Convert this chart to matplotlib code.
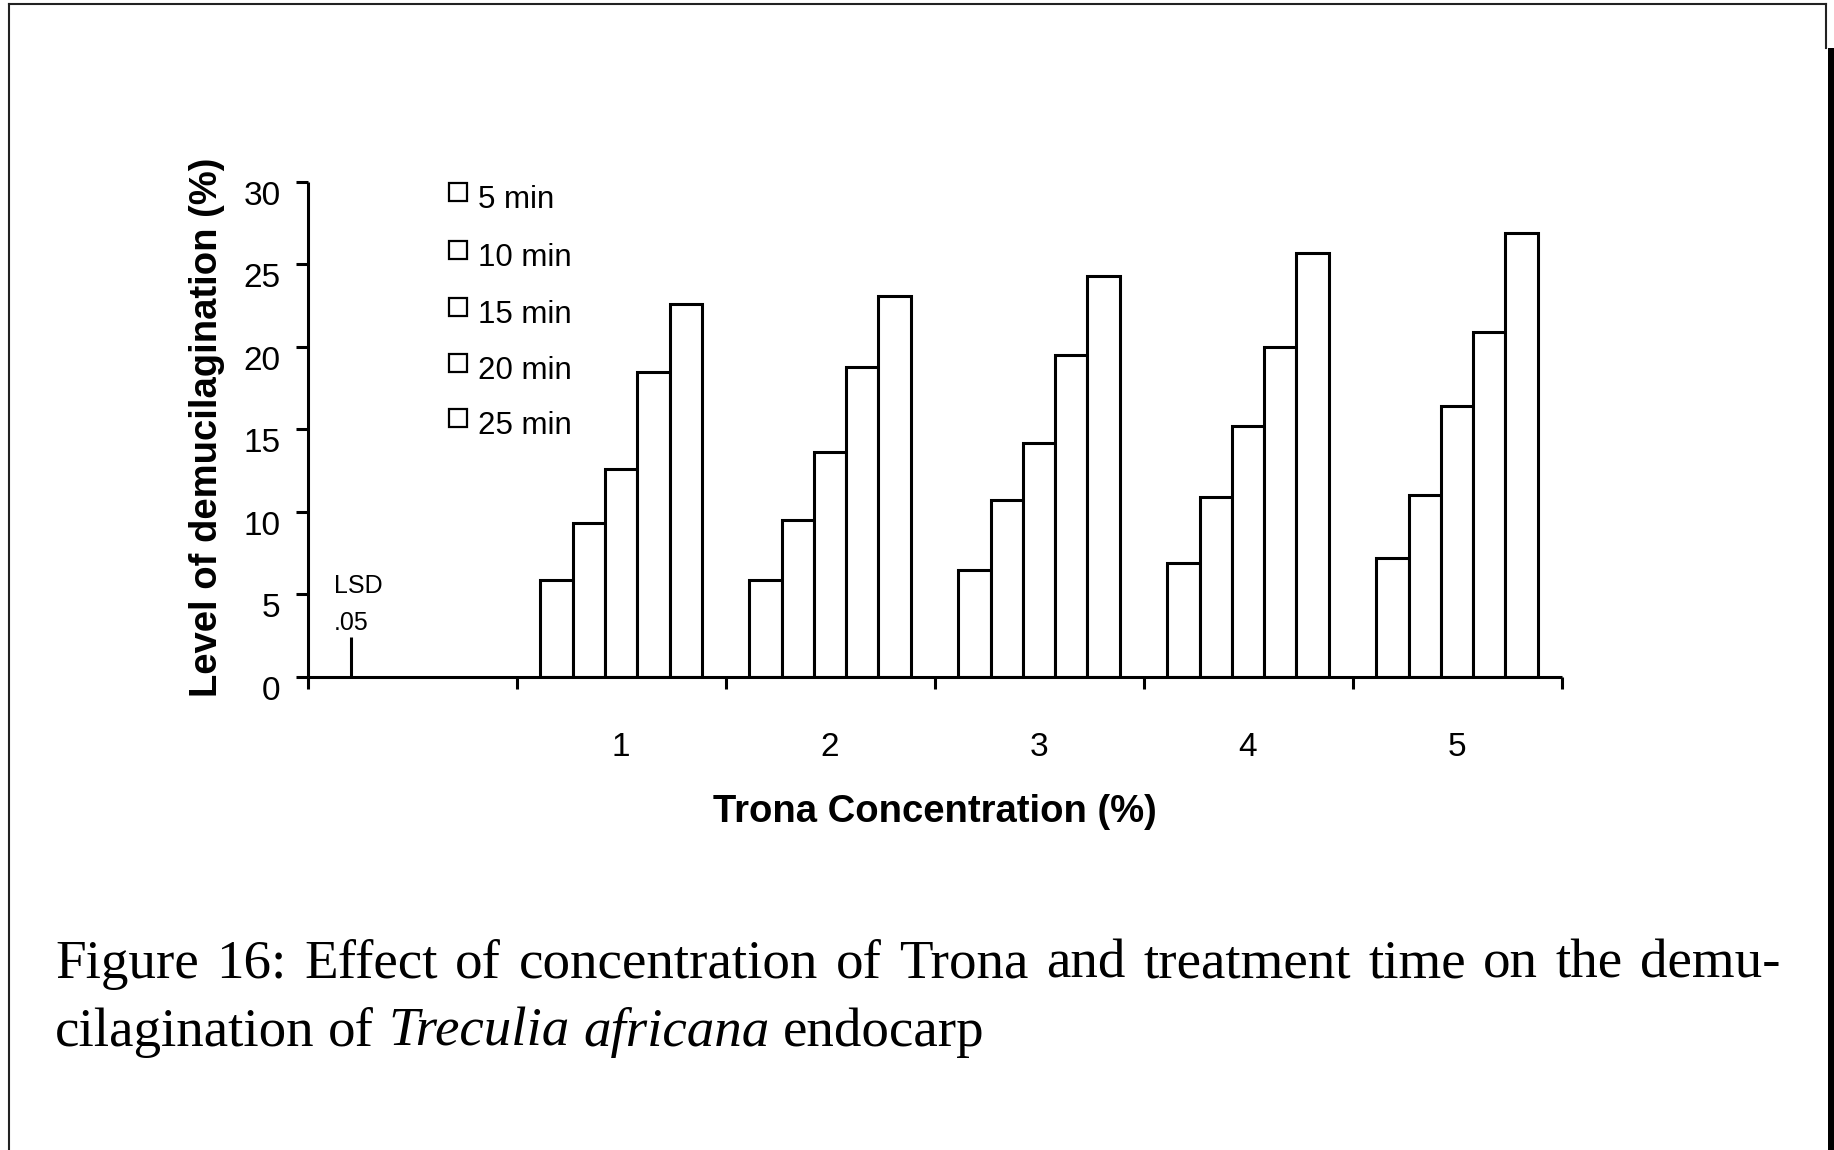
import numpy as np
import matplotlib.pyplot as plt
import matplotlib.transforms as mtransforms
from matplotlib.lines import Line2D
from matplotlib.patches import Rectangle

W, H = 1834, 1150

# data
conc_labels = ['1', '2', '3', '4', '5']
time_labels = ['5 min', '10 min', '15 min', '20 min', '25 min']
t5 = [5.9, 5.9, 6.5, 6.9, 7.2]
t10 = [9.3, 9.5, 10.7, 10.9, 11.0]
t15 = [12.6, 13.6, 14.2, 15.2, 16.4]
t20 = [18.5, 18.8, 19.5, 20.0, 20.9]
t25 = [22.6, 23.1, 24.3, 25.7, 26.9]
lsd05 = 2.4
yticks = [0, 5, 10, 15, 20, 25, 30]

caption1 = 'Figure 16: Effect of concentration of Trona and treatment time on the demu-'
caption2 = [('cilagination', 'normal'), ('of', 'normal'), ('Treculia', 'italic'),
            ('africana', 'italic'), ('endocarp', 'normal')]

sans = 'Liberation Sans'
serif = 'Liberation Serif'
lw = 2.2


def fx(x):
    return x / W


def fy(y):
    return 1 - y / H


fig = plt.figure(figsize=(W / 100, H / 100), dpi=100)
fig.patch.set_facecolor('white')

ax_l, ax_r, ax_t, ax_b = 307.6, 1561.5, 181.7, 677.0
ax = fig.add_axes([fx(ax_l), fy(ax_b), (ax_r - ax_l) / W, (ax_b - ax_t) / H])

series = [t5, t10, t15, t20, t25]
bw = 0.1545
xc = np.arange(1, len(conc_labels) + 1)
for j, vals in enumerate(series):
    ax.bar(xc + (j - 2) * bw, vals, bw, facecolor='white', edgecolor='black',
           linewidth=lw, zorder=2)

# LSD bar in the empty first slot
x_lsd = -0.29
ax.plot([x_lsd, x_lsd], [0, lsd05], color='black', lw=lw, solid_capstyle='butt')
ax.text(x_lsd - 0.085, lsd05 + 3.1, 'LSD', fontsize=18, family=sans, va='center', ha='left')
ax.text(x_lsd - 0.085, lsd05 + 0.9, '.05', fontsize=18, family=sans, va='center', ha='left')

ax.set_xlim(-0.5, len(conc_labels) + 0.5)
ax.set_ylim(0, 30)
for s in ['top', 'right']:
    ax.spines[s].set_visible(False)
for s in ['left', 'bottom']:
    ax.spines[s].set_linewidth(lw)
    ax.spines[s].set_capstyle('butt')

ax.set_xticks(np.arange(-0.5, len(conc_labels) + 1, 1.0))
ax.set_xticklabels([])
ax.set_xticks(np.arange(0, len(conc_labels) + 1), minor=True)
ax.set_xticklabels([''] + conc_labels, minor=True, fontsize=24, family=sans)
ax.tick_params(axis='x', which='major', direction='out', length=8.8, width=lw)
ax.tick_params(axis='x', which='minor', length=0, pad=39.5)

ax.set_yticks(yticks)
ax.set_yticklabels([str(v) for v in yticks], fontsize=24, family=sans)
ax.tick_params(axis='y', direction='out', length=8.6, width=lw, pad=11)
off = mtransforms.ScaledTranslation(0, -0.11, fig.dpi_scale_trans)
for lab in ax.get_yticklabels():
    lab.set_transform(lab.get_transform() + off)

ax.set_xlabel('Trona Concentration (%)', fontsize=27.5, fontweight='bold', family=sans, va='center')
ax.xaxis.set_label_coords(0.5, (ax_b - 811.7) / (ax_b - ax_t))
ax.set_ylabel('Level of demucilagination (%)', fontsize=27.5, fontweight='bold', family=sans, va='center')
ax.yaxis.set_label_coords((207 - ax_l) / (ax_r - ax_l), (ax_b - 427) / (ax_b - ax_t))

# legend: empty squares with labels sitting a bit lower
leg_y = [191.7, 250, 306.7, 363, 418]
for yy, lab in zip(leg_y, time_labels):
    fig.add_artist(Rectangle((fx(449), fy(yy + 9)), 18 / W, 18 / H, transform=fig.transFigure,
                             facecolor='white', edgecolor='black', linewidth=1.6))
    fig.text(fx(478), fy(yy + 8), lab, fontsize=22.5, family=sans, va='center', ha='left')

# page frame
frame = dict(color='#222222', linewidth=1.5, transform=fig.transFigure)
fig.add_artist(Line2D([fx(9.3), fx(1826)], [fy(4.3), fy(4.3)], **frame))
fig.add_artist(Line2D([fx(9.3), fx(9.3)], [fy(4.3), fy(H)], **frame))
fig.add_artist(Line2D([fx(1826), fx(1826)], [fy(4.3), fy(48)], **frame))
fig.add_artist(Rectangle((fx(1827.5), 0), (W - 1827.5) / W, fy(48), transform=fig.transFigure,
                         facecolor='black', edgecolor='none'))

# caption, first line justified
renderer = fig.canvas.get_renderer()
cap_size = 39.6
x_left, x_right = 55, 1781
base1, base2 = 978, 1046


def width(t):
    return t.get_window_extent(renderer=renderer).width


words = caption1.split(' ')
texts = [fig.text(0, fy(base1), w, fontsize=cap_size, family=serif, va='baseline') for w in words]
ws = [width(t) for t in texts]
gap = (x_right - x_left - sum(ws)) / (len(words) - 1)
x = x_left
for t, w in zip(texts, ws):
    t.set_x(fx(x))
    x += w + gap

probe_a = fig.text(0, 0, 'aa', fontsize=cap_size, family=serif)
probe_b = fig.text(0, 0, 'a a', fontsize=cap_size, family=serif)
space = width(probe_b) - width(probe_a)
probe_a.remove()
probe_b.remove()

x = x_left
for w, style in caption2:
    t = fig.text(fx(x), fy(base2), w, fontsize=cap_size, family=serif, style=style, va='baseline')
    x += width(t) + space

fig.savefig('out.png', dpi=100, facecolor='white')
